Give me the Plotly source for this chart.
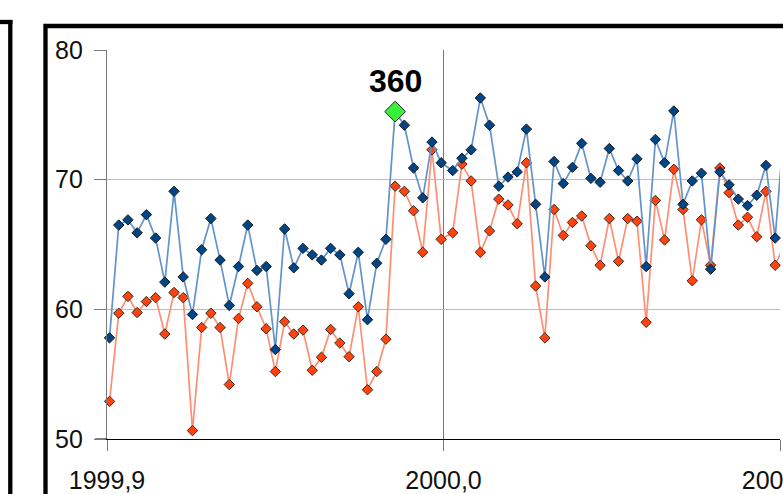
import plotly.graph_objects as go

# ---- data ----
years = [1999] * 37 + [2000] * 37
doys = list(range(329, 366)) + list(range(1, 38))

blue_vals = [57.8, 66.5, 66.9, 65.9, 67.3, 65.5, 62.1, 69.1, 62.5, 59.6,
             64.6, 67.0, 63.8, 60.3, 63.3, 66.5, 63.0, 63.3, 56.9, 66.2,
             63.2, 64.7, 64.2, 63.8, 64.7, 64.2, 61.2, 64.4, 59.2, 63.55,
             65.4, 75.25, 74.2, 70.9, 68.6, 72.9, 71.3,
             70.7, 71.65, 72.3, 76.3, 74.2, 69.5, 70.2, 70.6, 73.9, 68.1,
             62.5, 71.4, 69.7, 70.95, 72.8, 70.1, 69.8, 72.4, 70.7, 69.9,
             71.6, 63.3, 73.1, 71.3, 75.3, 68.1, 69.9, 70.5, 63.1, 70.6,
             69.6, 68.5, 68.0, 68.8, 71.1, 65.5, 74.4]

red_vals = [52.9, 59.7, 61.0, 59.75, 60.6, 60.9, 58.1, 61.3, 60.9, 50.65,
            58.6, 59.7, 58.6, 54.2, 59.3, 62.0, 60.2, 58.5, 55.2, 59.05,
            58.1, 58.4, 55.3, 56.3, 58.45, 57.4, 56.35, 60.2, 53.8, 55.2,
            57.7, 69.5, 69.1, 67.6, 64.4, 72.3, 65.4,
            65.9, 71.2, 69.9, 64.4, 66.05, 68.5, 68.05, 66.6, 71.3, 61.8,
            57.8, 67.7, 65.7, 66.7, 67.2, 64.9, 63.4, 67.0, 63.7, 67.0,
            66.8, 59.0, 68.4, 65.35, 70.8, 67.7, 62.2, 66.9, 63.4, 70.9,
            69.0, 66.5, 67.1, 65.6, 69.1, 63.4, 65.0]

highlight_year = 1999
highlight_doy = 360
highlight_label = "360"

x_range = [1999.9, 2000.1]
y_range = [50, 80]
tick_vals_x = [1999.9, 2000.0, 2000.1]
tick_text_x = ["1999,9", "2000,0", "2000,1"]
tick_vals_y = [50, 60, 70, 80]
tick_text_y = ["50", "60", "70", "80"]

# ---- derived ----
xs = [y + d / 365.25 for y, d in zip(years, doys)]
in_rng = [x_range[0] - 1e-9 <= x <= x_range[1] + 1e-9 for x in xs]
xs_in = [x for x, k in zip(xs, in_rng) if k]
blue_in = [v for v, k in zip(blue_vals, in_rng) if k]
red_in = [v for v, k in zip(red_vals, in_rng) if k]
hi = [i for i, (y, d) in enumerate(zip(years, doys)) if y == highlight_year and d == highlight_doy][0]

FONT = "Liberation Sans, Arial, sans-serif"
BLUE_M, BLUE_L = "#004586", "#6393cb"
RED_M, RED_L = "#ff420e", "#ff8e72"

fig = go.Figure()
fig.add_trace(go.Scatter(x=xs, y=red_vals, mode="lines",
                         line=dict(color=RED_L, width=1.7), hoverinfo="skip"))
fig.add_trace(go.Scatter(x=xs_in, y=red_in, mode="markers", cliponaxis=False,
                         marker=dict(symbol="diamond", size=8, color=RED_M,
                                     line=dict(color="#3a2a20", width=1))))
fig.add_trace(go.Scatter(x=xs, y=blue_vals, mode="lines",
                         line=dict(color=BLUE_L, width=1.7), hoverinfo="skip"))
fig.add_trace(go.Scatter(x=xs_in, y=blue_in, mode="markers", cliponaxis=False,
                         marker=dict(symbol="diamond", size=8, color=BLUE_M,
                                     line=dict(color="#1a1a1a", width=1))))
fig.add_trace(go.Scatter(x=[xs[hi]], y=[blue_vals[hi]], mode="markers", cliponaxis=False,
                         marker=dict(symbol="diamond", size=16, color="#39f039",
                                     line=dict(color="#2a2a2a", width=1))))

fig.add_annotation(x=xs[hi], y=blue_vals[hi], text="<b>" + highlight_label + "</b>",
                   showarrow=False, yshift=31,
                   font=dict(family=FONT, size=32, color="#000"))

# frames (outer panel borders)
fig.add_shape(type="rect", xref="paper", yref="paper",
              x0=-0.0914, x1=1.04, y0=-0.2, y1=1.0617,
              line=dict(color="#000", width=4.3), layer="above")
fig.add_shape(type="line", xref="paper", yref="paper",
              x0=-0.1437, x1=-0.1437, y0=-0.2, y1=1.077,
              line=dict(color="#000", width=4.3), layer="above")
fig.add_shape(type="line", xref="paper", yref="paper",
              x0=-0.18, x1=-0.1405, y0=1.072, y1=1.072,
              line=dict(color="#000", width=4.3), layer="above")
# black tick at the bottom value (axis baseline extension)
fig.add_shape(type="line", xref="paper", yref="y",
              x0=-12 / 673, x1=0, y0=y_range[0], y1=y_range[0],
              line=dict(color="#000", width=1), layer="above")

fig.update_layout(
    width=783, height=494, autosize=False,
    margin=dict(l=107, r=3, t=50, b=55, autoexpand=False),
    paper_bgcolor="white", plot_bgcolor="white",
    showlegend=False,
    font=dict(family=FONT, size=25, color="#111"),
    xaxis=dict(range=x_range, tickvals=tick_vals_x, ticktext=tick_text_x,
               automargin=False, ticklabeloverflow="allow",
               showgrid=True, gridcolor="#777777", gridwidth=1.3,
               zeroline=False, showline=True, linecolor="#000", linewidth=1,
               ticks="outside", ticklen=11, tickcolor="#777777", tickwidth=1.3,
               tickfont=dict(family=FONT, size=25, color="#111"),
               ticklabelstandoff=8),
    yaxis=dict(range=y_range, tickvals=tick_vals_y, ticktext=tick_text_y,
               automargin=False,
               showgrid=True, gridcolor="#bdbdbd", gridwidth=1,
               zeroline=False, showline=True, linecolor="#7a7a7a", linewidth=1.3,
               ticks="outside", ticklen=12, tickcolor="#7a7a7a", tickwidth=1,
               tickfont=dict(family=FONT, size=25, color="#111"),
               ticklabelstandoff=6),
)

fig.write_html("out.html",
               config={"displayModeBar": False},
               post_script="document.body.style.margin='0';"
                           "document.body.style.overflow='hidden';")
